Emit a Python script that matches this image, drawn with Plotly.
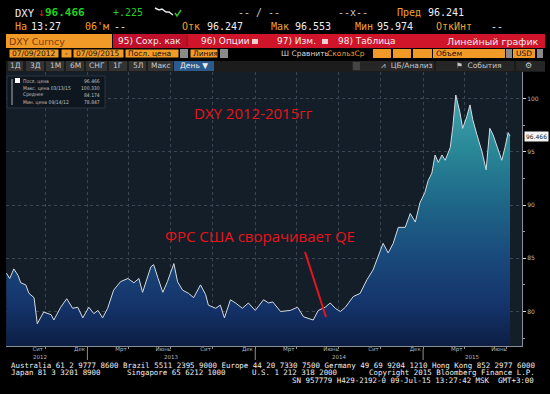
import plotly.graph_objects as go

# ---------------- data ----------------
dates = ["2012-07-09", "2012-07-16", "2012-07-25", "2012-08-03", "2012-08-09", "2012-08-20", "2012-08-27",
         "2012-09-07", "2012-09-14", "2012-09-28", "2012-10-14", "2012-10-20", "2012-11-04", "2012-11-17",
         "2012-11-30", "2012-12-11", "2012-12-22", "2013-01-04", "2013-01-15", "2013-01-24", "2013-02-03",
         "2013-02-14", "2013-02-27", "2013-03-14", "2013-03-30", "2013-04-12", "2013-04-23", "2013-05-01",
         "2013-05-19", "2013-05-25", "2013-06-03", "2013-06-14", "2013-06-24", "2013-07-01", "2013-07-08",
         "2013-07-16", "2013-07-27", "2013-08-09", "2013-08-20", "2013-09-04", "2013-09-15", "2013-09-21",
         "2013-10-07", "2013-10-17", "2013-10-26", "2013-11-08", "2013-11-19", "2013-12-04", "2013-12-17",
         "2014-01-01", "2014-01-19", "2014-01-30", "2014-02-08", "2014-02-25", "2014-03-18", "2014-04-03",
         "2014-04-16", "2014-05-07", "2014-05-18", "2014-06-02", "2014-06-13", "2014-06-24", "2014-07-05",
         "2014-07-16", "2014-08-02", "2014-08-17", "2014-09-01", "2014-09-14", "2014-09-25", "2014-10-06",
         "2014-10-17", "2014-10-28", "2014-11-08", "2014-11-23", "2014-12-04", "2014-12-15", "2014-12-25",
         "2015-01-05", "2015-01-12", "2015-01-20", "2015-01-27", "2015-02-03", "2015-02-11", "2015-02-18",
         "2015-03-01", "2015-03-07", "2015-03-13", "2015-03-22", "2015-03-28", "2015-04-06", "2015-04-13",
         "2015-04-19", "2015-04-28", "2015-05-09", "2015-05-18", "2015-05-26", "2015-06-02", "2015-06-11",
         "2015-06-21", "2015-06-28", "2015-07-05", "2015-07-09"]
dxy = [83.6, 83.1, 84.0, 83.4, 82.7, 82.5, 81.7,
       81.3, 78.85, 79.95, 79.7, 79.2, 80.4, 81.2,
       80.3, 80.4, 79.4, 80.4, 79.8, 80.1, 79.4,
       80.3, 82.0, 82.8, 83.1, 82.7, 83.1, 81.8,
       84.2, 84.4, 83.2, 81.8, 82.8, 83.6, 84.5,
       82.8, 82.0, 81.7, 81.3, 82.5, 81.6, 80.6,
       80.3, 80.6, 79.4, 81.1, 80.8, 80.3, 80.8,
       80.1, 81.1, 80.8, 80.9, 80.0, 80.1, 80.4,
       79.5, 79.2, 80.1, 80.4, 80.8, 80.3, 80.0,
       80.4, 81.4, 81.7, 83.0, 83.9, 85.1, 86.4,
       85.5, 86.4, 87.9, 87.9, 89.2, 88.4, 90.2,
       91.2, 92.3, 93.0, 94.7, 94.0, 94.7, 94.2,
       95.4, 97.5, 100.33, 98.7, 97.2, 98.3, 99.4,
       98.0, 96.6, 95.0, 93.3, 97.2, 96.6, 95.4,
       94.2, 95.4, 96.8, 96.466]

month_ticks = ["2012-09-15", "2012-12-15", "2013-03-15", "2013-06-15", "2013-09-15", "2013-12-15",
               "2014-03-15", "2014-06-15", "2014-09-15", "2014-12-15", "2015-03-15", "2015-06-15"]
month_labels = ["Сит", "Дек", "Мрт", "Июнь", "Сит", "Дек", "Мрт", "Июнь", "Сит", "Дек", "Мрт", "Июнь"]
quarter_lines = ["2012-10-01", "2013-01-01", "2013-04-01", "2013-07-01", "2013-10-01", "2014-01-01",
                 "2014-04-01", "2014-07-01", "2014-10-01", "2015-01-01", "2015-04-01", "2015-07-01"]
years = ["2012", "2013", "2014", "2015"]
year_centers = ["2012-09-20", "2013-07-02", "2014-07-02", "2015-04-18"]
year_bounds = ["2013-01-01", "2014-01-01", "2015-01-01"]
y_ticks = [80, 85, 90, 95, 100]

legend_names = ["Посл. цена", "Макс. цена 03/13/15", "Среднее", "Мин. цена 09/14/12"]
legend_values = ["96.466", "100.330", "84.174", "78.847"]
last_price = 96.466

# ---------------- layout helpers ----------------
W, H = 550, 394
L, R, T, B = 6, 28, 72, 48
PW, PH = W - L - R, H - T - B


def px(x):
    return (x - L) / PW


def py(y):
    return (H - B - y) / PH


shapes = []
annots = []


def rect(x0, y0, x1, y1, color, line=None):
    shapes.append(dict(type="rect", xref="paper", yref="paper", x0=px(x0), x1=px(x1), y0=py(y1), y1=py(y0),
                       fillcolor=color, line=dict(width=0 if line is None else 1, color=line or color),
                       layer="above"))


def seg(x0, y0, x1, y1, color, width=1, layer="above"):
    shapes.append(dict(type="line", xref="paper", yref="paper", x0=px(x0), x1=px(x1), y0=py(y0), y1=py(y1),
                       line=dict(color=color, width=width), layer=layer))


def text(x, y, s, color="#f0f0f0", size=9, anchor="left", family="DejaVu Sans", yanchor="middle"):
    annots.append(dict(xref="paper", yref="paper", x=px(x), y=py(y), text=s, showarrow=False,
                       xanchor=anchor, yanchor=yanchor, borderpad=0,
                       font=dict(color=color, size=size, family=family)))


MONO = "DejaVu Sans Mono"
COND = "DejaVu Sans Condensed, DejaVu Sans"
ORG = "#f29a28"
ORG_T = "#f0a030"
WHITE = "#eeeeee"

# ---------------- header row 1 ----------------
text(14, 13, "DXY", WHITE, 10.5, family=MONO)
text(37, 13, "↓", "#e02020", 11, family=MONO)
text(44, 13, "<b>96.466</b>", "#22d022", 11, family=MONO)
text(112, 13, "+.225", "#22d022", 10, family=MONO)
shapes.append(dict(type="path", xref="paper", yref="paper",
                   path="M {} {} L {} {} L {} {} L {} {} L {} {} L {} {}".format(
                       px(155), py(8), px(159), py(10), px(162), py(9), px(166), py(12), px(169), py(12), px(173), py(15)),
                   line=dict(color="#e8e8e8", width=1.5), layer="above"))
shapes.append(dict(type="path", xref="paper", yref="paper",
                   path="M {} {} L {} {} L {} {}".format(px(175), py(13), px(177), py(16), px(181), py(10)),
                   line=dict(color="#30c030", width=1.5), layer="above"))
text(237, 13, "-- / --", "#c8c8c8", 10, family=MONO)
text(337, 13, "--x--", "#c8c8c8", 10, family=MONO)
text(396, 13, "Пред", ORG_T, 10, family=MONO)
text(427, 13, "96.241", WHITE, 10, family=MONO)

# ---------------- header row 2 ----------------
text(14, 26, "На", ORG_T, 10, family=MONO)
text(30, 26, "13:27", WHITE, 10, family=MONO)
text(84, 26, "06'м", ORG_T, 10, family=MONO)
text(113, 26, "--", WHITE, 10, family=MONO)
text(181, 26, "Отк", ORG_T, 10, family=MONO)
text(206, 26, "96.247", WHITE, 10, family=MONO)
text(270, 26, "Мак", ORG_T, 10, family=MONO)
text(294, 26, "96.553", WHITE, 10, family=MONO)
text(354, 26, "Мин", ORG_T, 10, family=MONO)
text(376, 26, "95.974", WHITE, 10, family=MONO)
text(435, 26, "ОткИнт", ORG_T, 10, family=MONO)
text(490, 26, "--", WHITE, 10, family=MONO)

# ---------------- toolbar row 3 ----------------
rect(6, 34, 112, 48, ORG)
text(8, 41, "DXY Curncy", "#7a3c08", 9.5)
rect(113, 34, 545, 48, "#d0142a")
rect(113, 34, 186, 48, "#c0102a")
seg(187, 35, 187, 47, "#8a0a18", 1)
text(117, 41, "95) Сохр. как", WHITE, 9)
text(200, 41, "96) Опции", WHITE, 9)
rect(252, 39, 258, 44, "#f0d0d0")
text(276, 41, "97) Изм.", WHITE, 9)
rect(322, 39, 328, 44, "#f0d0d0")
text(337, 41, "98) Таблица", WHITE, 9)
text(540, 41, "Линейный график", WHITE, 9.5, anchor="right")

# ---------------- toolbar row 4 ----------------
rect(9, 49, 59, 58, ORG, "#000000")
text(11, 53.5, "07/09/2012", "#111111", 7.5)
rect(61, 49, 72, 58, ORG, "#000000")
text(66.5, 53.5, "-", "#111111", 7.5, anchor="center")
rect(73, 49, 124, 58, ORG, "#000000")
text(75, 53.5, "07/09/2015", "#111111", 7.5)
rect(125, 49, 179, 58, ORG, "#000000")
text(127, 53.5, "Посл. цена", "#111111", 7.5)
rect(180, 49, 188, 58, "#8a8a8a")
rect(190, 49, 218, 58, ORG, "#000000")
text(192, 53.5, "Линия", "#111111", 7.5)
rect(220, 49, 228, 58, "#8a8a8a")
text(280, 53.5, "Ш Сравнить", "#d8d8d8", 7.5)
text(326, 53.5, "СкользСр", ORG_T, 7.5)
for a, b in [(373, 391), (393, 411), (413, 432)]:
    rect(a, 49, b, 58, ORG)
rect(433, 49, 505, 58, ORG)
text(435, 53.5, "Объем", "#111111", 7.5)
rect(506, 49, 512, 58, "#8a8a8a")
rect(513, 49, 535, 58, ORG)
text(515, 53.5, "USD", "#111111", 7.5)
rect(537, 49, 543, 58, "#8a8a8a")

# ---------------- toolbar row 5 ----------------
rect(6, 61, 545, 72, "#1c1c1c")
btns = [("1Д", 8, 23), ("3Д", 26, 44), ("1М", 46, 64), ("6М", 66, 84), ("СНГ", 86, 107), ("1Г", 109, 127),
        ("5Л", 129, 146), ("Макс", 148, 173)]
for s, a, b in btns:
    rect(a, 61, b, 71, "#333333")
    text((a + b) / 2, 66, s, "#c8c8c8", 7.5, anchor="center")
rect(174, 61, 214, 71, "#2c5a8c")
text(194, 66, "День ▼", WHITE, 7.5, anchor="center")
rect(352, 61, 545, 71, "#262626")
rect(353, 62, 360, 70, "#444444")
seg(435, 61, 435, 71, "#111111")
seg(515, 61, 515, 71, "#111111")
text(380, 66, "⩘  ЦБ/Анализ", "#c8c8c8", 7.5)
text(455, 66, "⚑  События", "#c8c8c8", 7.5)
text(528, 66, "⚙", "#c8c8c8", 8, anchor="center")

# ---------------- chart annotations ----------------
text(253, 113, "DXY 2012-2015гг", "#e8141c", 15, anchor="center", family="Open Sans")
text(260, 236, "ФРС США сворачивает QE", "#e8141c", 15, anchor="center", family="Open Sans")
seg(305, 252, 326, 317, "#e8141c", 2)

# legend box
rect(7, 76, 105, 108, "#0e171f", "#2a3540")
seg(12, 79, 12, 105, "#b0b0b0")
rect(15, 78, 20, 83, "#ffffff")
for i, (n, v) in enumerate(zip(legend_names, legend_values)):
    yy = 81 + i * 7
    text(22, yy, n, "#c0c0c0", 5, family=COND)
    text(101, yy, v, "#c0c0c0", 5, anchor="right", family=COND)

# last price box on right axis
annots.append(dict(xref="paper", yref="y", x=px(524), y=last_price, text="96.466", showarrow=False,
                   xanchor="left", yanchor="middle", bgcolor="#f4f4f4", borderpad=1,
                   font=dict(color="#222222", size=6, family="DejaVu Sans")))

# year labels and separators
for s, c in zip(years, year_centers):
    annots.append(dict(xref="x", yref="paper", x=c, y=py(357), text=s, showarrow=False, xanchor="center",
                       yanchor="middle", font=dict(color="#b8b8b8", size=5.5, family="DejaVu Sans")))
for d in year_bounds:
    shapes.append(dict(type="line", xref="x", yref="paper", x0=d, x1=d, y0=py(349), y1=py(360),
                       line=dict(color="#8a9098", width=1)))

# footer
text(10, 365, "Australia 61 2 9777 8600 Brazil 5511 2395 9000 Europe 44 20 7330 7500 Germany 49 69 9204 1210 Hong Kong 852 2977 6000",
     WHITE, 7.45, family=MONO)
text(10, 372.5, "Japan 81 3 3201 8900", WHITE, 7.45, family=MONO)
text(126, 372.5, "Singapore 65 6212 1000", WHITE, 7.45, family=MONO)
text(251, 372.5, "U.S. 1 212 318 2000", WHITE, 7.45, family=MONO)
text(368, 372.5, "Copyright 2015 Bloomberg Finance L.P.", WHITE, 7.45, family=MONO)
text(535, 380, "SN 957779 H429-2192-0 09-Jul-15 13:27:42 MSK  GMT+3:00", WHITE, 7.45, anchor="right", family=MONO)

# ---------------- figure ----------------
fig = go.Figure()
fig.add_trace(go.Scatter(
    x=dates, y=dxy, mode="lines", line=dict(color="#d4dae0", width=1), fill="tozeroy",
    fillgradient=dict(type="vertical", start=76.8, stop=101,
                      colorscale=[[0, "#0c1e44"], [0.15, "#14336a"], [0.35, "#1a4a7c"], [0.55, "#1e6688"],
                                  [0.75, "#288696"], [1, "#48a8b0"]]),
    hoverinfo="skip", showlegend=False))

fig.update_layout(
    width=W, height=H, margin=dict(l=L, r=R, t=T, b=B),
    paper_bgcolor="#000000", plot_bgcolor="#131e28",
    shapes=shapes, annotations=annots, showlegend=False,
    xaxis=dict(type="date", range=["2012-07-08", "2015-08-04"], tickvals=month_ticks, ticktext=month_labels,
               ticks="", showgrid=False, showline=True, linecolor="#8a9098", linewidth=1,
               ticklabelstandoff=-3,
               tickfont=dict(size=5.5, color="#b8b8b8", family="DejaVu Sans"),
               minor=dict(tickvals=quarter_lines, showgrid=True, gridcolor="#3a4752", griddash="dot",
                          ticks="outside", ticklen=2, tickcolor="#8a9098"),
               zeroline=False),
    yaxis=dict(side="right", range=[76.76, 102.49], tickvals=y_ticks, ticks="outside", ticklen=3,
               tickcolor="#e0e0e0", showgrid=True, gridcolor="#3a4752", griddash="dot",
               showline=True, linecolor="#8a9098", linewidth=1, zeroline=False,
               tickfont=dict(size=6, color="#b8b8b8", family="DejaVu Sans"),
               minor=dict(dtick=2.5, tick0=77.5, ticks="outside", ticklen=2, tickcolor="#a0a0a0")),
)

fig.write_html("out.html", config={"displayModeBar": False},
               post_script="document.body.style.margin='0';document.body.style.background='#000';")
